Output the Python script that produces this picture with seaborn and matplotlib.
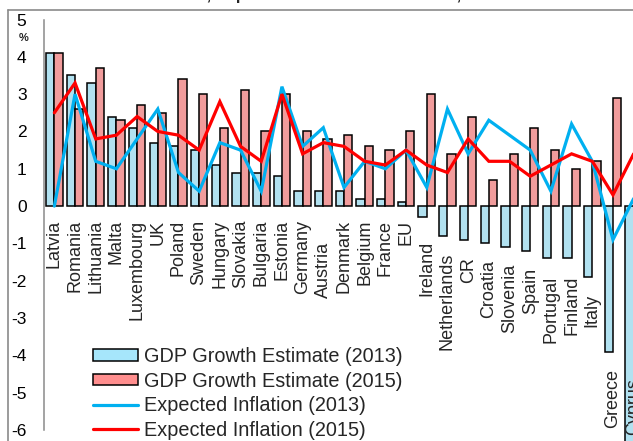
import numpy as np
import pandas as pd
import matplotlib
matplotlib.use("Agg")
import matplotlib.pyplot as plt
from matplotlib.lines import Line2D
from matplotlib.patches import Patch
import seaborn as sns

# ---- data -------------------------------------------------------------
countries = ["Latvia", "Romania", "Lithuania", "Malta", "Luxembourg", "UK",
             "Poland", "Sweden", "Hungary", "Slovakia", "Bulgaria", "Estonia",
             "Germany", "Austria", "Denmark", "Belgium", "France", "EU",
             "Ireland", "Netherlands", "CR", "Croatia", "Slovenia", "Spain",
             "Portugal", "Finland", "Italy", "Greece", "Cyprus"]

gdp_2013 = [4.1, 3.5, 3.3, 2.4, 2.1, 1.7, 1.6, 1.5, 1.1, 0.9, 0.9, 0.8,
            0.4, 0.4, 0.4, 0.2, 0.2, 0.1, -0.3, -0.8, -0.9, -1.0, -1.1,
            -1.2, -1.4, -1.4, -1.9, -3.9, -8.7]
gdp_2015 = [4.1, 2.6, 3.7, 2.3, 2.7, 2.5, 3.4, 3.0, 2.1, 3.1, 2.0, 3.0,
            2.0, 1.8, 1.9, 1.6, 1.5, 2.0, 3.0, 1.4, 2.4, 0.7, 1.4, 2.1,
            1.5, 1.0, 1.2, 2.9, 1.1]
infl_2013 = [0.0, 3.0, 1.2, 1.0, 1.8, 2.6, 0.9, 0.4, 1.7, 1.5, 0.4, 3.2,
             1.6, 2.1, 0.5, 1.2, 1.0, 1.5, 0.5, 2.6, 1.4, 2.3, 1.9, 1.5,
             0.4, 2.2, 1.2, -0.9, 0.2]
infl_2015 = [2.5, 3.3, 1.8, 1.9, 2.4, 2.0, 1.9, 1.5, 2.8, 1.6, 1.2, 3.0,
             1.4, 1.7, 1.6, 1.2, 1.1, 1.5, 1.1, 0.9, 1.8, 1.2, 1.2, 0.8,
             1.1, 1.4, 1.2, 0.3, 1.4]

series_names = ["GDP Growth Estimate (2013)", "GDP Growth Estimate (2015)",
                "Expected Inflation (2013)", "Expected Inflation (2015)"]
y_ticks = list(range(-6, 6))
title_text = "GDP Growth Estimates, Expected Inflation and Outlook, 2013 and 2015"

# ---- style ------------------------------------------------------------
sns.set_style("white")
plt.rcParams["font.family"] = ["Liberation Sans", "DejaVu Sans"]
plt.rcParams["axes.unicode_minus"] = False

BAR_BLUE = "#a6e6fb"
BAR_RED = "#ff8e8e"
LINE_BLUE = "#00b0f0"
LINE_RED = "#ff0000"
GREY = "#8a8a8a"

W, H = 633, 441
fig = plt.figure(figsize=(W / 100, H / 100), dpi=100)


def fx(px):
    return px / W


def fy(py):
    return 1 - py / H


# plot area: y axis line at x=44 px, y=5 at 19.5 px, y=-6 at 430 px
ax = fig.add_axes([fx(44), fy(430), fx(600), (430 - 19.5) / H])

df = pd.DataFrame({
    "country": countries * 2,
    "value": gdp_2013 + gdp_2015,
    "series": [series_names[0]] * len(countries) + [series_names[1]] * len(countries),
})
sns.barplot(data=df, x="country", y="value", hue="series", order=countries,
            hue_order=series_names[:2], palette=[BAR_BLUE, BAR_RED],
            edgecolor="black", linewidth=1.1, width=0.8, legend=False,
            ax=ax, zorder=2)
for p in ax.patches:
    p.set_clip_on(False)

pos = np.arange(len(countries))
sns.lineplot(x=pos, y=infl_2013, color=LINE_BLUE, linewidth=2.3, ax=ax,
             zorder=3, sort=False)
sns.lineplot(x=pos, y=infl_2015, color=LINE_RED, linewidth=2.3, ax=ax,
             zorder=4, sort=False)
for ln in ax.lines:
    ln.set_solid_joinstyle("miter")

ax.set_xlim(-0.5, len(countries) - 0.5)
ax.set_ylim(-6, 5)
ax.set_yticks(y_ticks)
ax.set_yticklabels([str(t) for t in y_ticks])
ax.tick_params(axis="y", length=0, pad=12.6, labelsize=12.5, colors="black")
ax.set_xticks([])
ax.set_xlabel("")
ax.set_ylabel("")
for side in ["top", "right", "bottom"]:
    ax.spines[side].set_visible(False)
ax.spines["left"].set_color(GREY)
ax.spines["left"].set_linewidth(1.1)
ax.set_facecolor("none")

# country names hang below the bars (below zero or below a negative bar)
extra_drop = {"Austria": 22, "Ireland": 6}
for i, (name, v) in enumerate(zip(countries, gdp_2013)):
    if name == "Cyprus":
        anchor, drop = -4.6, 0
    elif v < 0:
        anchor, drop = v, 17
    else:
        anchor, drop = 0, 13.5
    drop += extra_drop.get(name, 0)
    ax.annotate(name, xy=(i, anchor), xytext=(0, -drop * 0.72),
                textcoords="offset points", rotation=90, ha="center",
                va="top", fontsize=13, annotation_clip=False, zorder=5)

# unit marker under the top tick
fig.text(fx(23.5), fy(38), "%", ha="center", va="center", fontsize=8,
         fontweight="bold")

# outer chart frame
fig.add_artist(Line2D([fx(8), fx(8)], [fy(10), fy(460)], color=GREY, lw=1.2))
fig.add_artist(Line2D([fx(8), fx(660)], [fy(10), fy(10)], color=GREY, lw=1.2))

# chart title above the frame
fig.text(fx(28), fy(0.3), title_text, ha="left", va="baseline",
         fontsize=11.8, fontweight="bold")

handles = [
    Patch(facecolor=BAR_BLUE, edgecolor="black", linewidth=1.1),
    Patch(facecolor=BAR_RED, edgecolor="black", linewidth=1.1),
    Line2D([], [], color=LINE_BLUE, lw=2.3),
    Line2D([], [], color=LINE_RED, lw=2.3),
]
fig.legend(handles, series_names, loc="upper left",
           bbox_to_anchor=(fx(93), fy(347)), frameon=False, fontsize=14.3,
           borderpad=0, borderaxespad=0, handlelength=2.25, handleheight=0.52,
           handletextpad=0.33, labelspacing=0.28)

fig.savefig("out.png", dpi=100)
